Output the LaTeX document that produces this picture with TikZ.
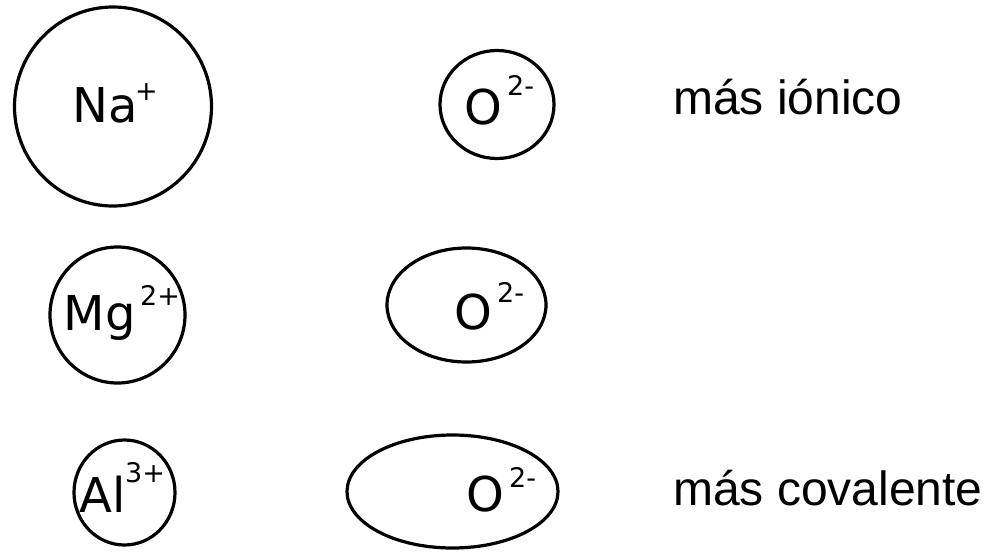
\documentclass[tikz,border=0pt]{standalone}
\usepackage{fontspec}
\setmainfont{DejaVu Sans}
\newfontfamily\arialfont{Liberation Sans}
\usetikzlibrary{shapes.geometric}
\begin{document}
\begin{tikzpicture}[x=1pt,y=-1pt,
  ion/.style={draw=black,line width=3.2pt,ellipse,inner sep=0pt},
  lbl/.style={anchor=base west,inner sep=0pt,font=\fontsize{48}{48}\selectfont},
  sup/.style={anchor=base west,inner sep=0pt,font=\fontsize{27}{27}\selectfont},
  side/.style={anchor=base west,inner sep=0pt,font=\arialfont\fontsize{48}{48}\selectfont}]
\useasboundingbox[fill=white] (0,0) rectangle (988,552);
% outlines
\node[ion,minimum width=197pt,minimum height=199pt] (naC) at (113,106.5) {};
\node[ion,minimum width=114pt,minimum height=108pt] (o1C) at (497,104.5) {};
\node[ion,minimum width=135pt,minimum height=136pt] (mgC) at (117.5,315) {};
\node[ion,minimum width=159pt,minimum height=114pt] (o2C) at (466.5,305) {};
\node[ion,minimum width=101pt,minimum height=105pt] (alC) at (124.5,492.5) {};
\node[ion,minimum width=211pt,minimum height=113pt] (o3C) at (452.5,491.5) {};
% labels
\node[lbl] (na) at (72.4,122) {Na};
\node[sup] (naS) at (135,100) {+};
\node[lbl] (o1) at (464.4,124) {O};
\node[sup] (o1S) at (507,95) {2-};
\node[lbl] (mg) at (63.4,330) {Mg};
\node[sup] (mgS) at (140,305) {2+};
\node[lbl] (o2) at (454.4,329) {O};
\node[sup] (o2S) at (497,302) {2-};
\node[lbl] (al) at (79.6,512) {Al};
\node[sup] (alS) at (125,482) {3+};
\node[lbl] (o3) at (466.4,511) {O};
\node[sup] (o3S) at (509,487) {2-};
% side texts
\node[side] (ionico) at (673,114) {más iónico};
\node[side] (covalente) at (673,505) {más covalente};
\end{tikzpicture}
\end{document}
